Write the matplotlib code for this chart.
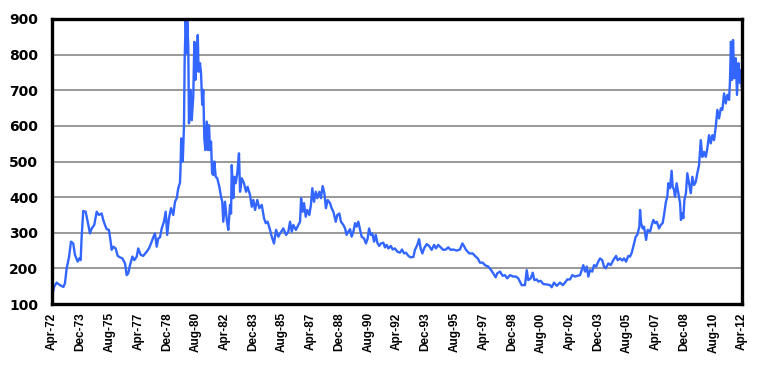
import matplotlib
matplotlib.use("Agg")
import matplotlib.pyplot as plt

# Data (decimal year, value)
years = [
    1972.27, 1972.37, 1972.52, 1972.71, 1972.91, 1973.00, 1973.10, 1973.24, 1973.35, 1973.48,
    1973.58, 1973.74, 1973.83, 1973.91, 1973.97, 1974.06, 1974.20, 1974.32, 1974.45, 1974.55,
    1974.70, 1974.84, 1974.97, 1975.13, 1975.22, 1975.32, 1975.42, 1975.55, 1975.65, 1975.71,
    1975.80, 1975.94, 1976.06, 1976.19, 1976.33, 1976.48, 1976.58, 1976.67, 1976.77, 1976.91,
    1977.02, 1977.16, 1977.25, 1977.39, 1977.54, 1977.74, 1977.87, 1977.99, 1978.12, 1978.22,
    1978.32, 1978.41, 1978.51, 1978.61, 1978.74, 1978.84, 1978.93, 1979.03, 1979.15, 1979.28,
    1979.38, 1979.48, 1979.57, 1979.67, 1979.70, 1979.74, 1979.83, 1979.90, 1979.94, 1980.00,
    1980.06, 1980.09, 1980.15, 1980.19, 1980.29, 1980.35, 1980.44, 1980.50, 1980.56, 1980.64,
    1980.70, 1980.75, 1980.83, 1980.89, 1980.96, 1981.02, 1981.08, 1981.14, 1981.22, 1981.29,
    1981.35, 1981.41, 1981.47, 1981.53, 1981.60, 1981.66, 1981.74, 1981.83, 1981.95, 1982.05,
    1982.12, 1982.18, 1982.28, 1982.38, 1982.47, 1982.57, 1982.63, 1982.67, 1982.76, 1982.82,
    1982.90, 1982.99, 1983.09, 1983.15, 1983.25, 1983.38, 1983.50, 1983.59, 1983.73, 1983.83,
    1983.92, 1984.02, 1984.15, 1984.27, 1984.41, 1984.54, 1984.64, 1984.75, 1984.89, 1984.99,
    1985.12, 1985.24, 1985.37, 1985.47, 1985.66, 1985.82, 1985.95, 1986.05, 1986.15, 1986.24,
    1986.39, 1986.53, 1986.63, 1986.69, 1986.78, 1986.86, 1986.96, 1987.05, 1987.17, 1987.26,
    1987.34, 1987.44, 1987.54, 1987.63, 1987.75, 1987.84, 1987.94, 1988.04, 1988.13, 1988.23,
    1988.37, 1988.46, 1988.56, 1988.70, 1988.79, 1988.91, 1989.00, 1989.14, 1989.24, 1989.33,
    1989.43, 1989.53, 1989.62, 1989.72, 1989.82, 1989.91, 1990.01, 1990.11, 1990.20, 1990.34,
    1990.45, 1990.55, 1990.63, 1990.73, 1990.82, 1990.92, 1991.02, 1991.11, 1991.22, 1991.32,
    1991.46, 1991.55, 1991.65, 1991.75, 1991.89, 1992.00, 1992.13, 1992.27, 1992.42, 1992.54,
    1992.66, 1992.77, 1992.91, 1993.04, 1993.20, 1993.29, 1993.43, 1993.53, 1993.62, 1993.72,
    1993.82, 1993.97, 1994.11, 1994.26, 1994.40, 1994.51, 1994.64, 1994.78, 1994.93, 1995.09,
    1995.22, 1995.36, 1995.51, 1995.71, 1995.90, 1996.04, 1996.13, 1996.25, 1996.44, 1996.64,
    1996.77, 1996.93, 1997.06, 1997.22, 1997.35, 1997.54, 1997.68, 1997.83, 1997.97, 1998.06,
    1998.22, 1998.38, 1998.51, 1998.64, 1998.80, 1998.99, 1999.15, 1999.28, 1999.48, 1999.67,
    1999.77, 1999.86, 2000.00, 2000.12, 2000.21, 2000.35, 2000.44, 2000.58, 2000.73, 2000.93,
    2001.12, 2001.22, 2001.35, 2001.51, 2001.70, 2001.86, 2001.99, 2002.12, 2002.28, 2002.41,
    2002.57, 2002.70, 2002.86, 2002.96, 2003.05, 2003.15, 2003.25, 2003.34, 2003.44, 2003.57,
    2003.67, 2003.79, 2003.92, 2004.02, 2004.15, 2004.25, 2004.35, 2004.50, 2004.64, 2004.79,
    2004.95, 2005.04, 2005.18, 2005.31, 2005.41, 2005.53, 2005.66, 2005.76, 2005.86, 2005.99,
    2006.09, 2006.18, 2006.30, 2006.34, 2006.40, 2006.49, 2006.57, 2006.69, 2006.78, 2006.92,
    2007.02, 2007.11, 2007.21, 2007.31, 2007.44, 2007.54, 2007.65, 2007.73, 2007.84, 2007.92,
    2007.98, 2008.08, 2008.17, 2008.23, 2008.31, 2008.37, 2008.46, 2008.56, 2008.66, 2008.71,
    2008.79, 2008.85, 2008.91, 2009.00, 2009.08, 2009.18, 2009.28, 2009.37, 2009.47, 2009.57,
    2009.66, 2009.76, 2009.86, 2009.95, 2010.05, 2010.15, 2010.24, 2010.34, 2010.44, 2010.53,
    2010.63, 2010.73, 2010.82, 2010.92, 2011.02, 2011.11, 2011.21, 2011.31, 2011.40, 2011.50,
    2011.55, 2011.61, 2011.67, 2011.73, 2011.80, 2011.89, 2011.96, 2012.04, 2012.12, 2012.18,
    2012.23,
]
values = [
    125, 148, 160, 153, 148, 158, 200, 233, 275, 270,
    238, 219, 228, 223, 289, 361, 359, 331, 298, 312,
    322, 359, 350, 354, 336, 322, 310, 308, 275, 252,
    261, 256, 235, 231, 228, 214, 181, 186, 209, 233,
    223, 233, 256, 238, 235, 247, 256, 270, 287, 298,
    261, 284, 287, 312, 331, 359, 294, 341, 369, 350,
    387, 397, 425, 441, 481, 565, 500, 598, 785, 897,
    804, 897, 822, 607, 701, 616, 682, 836, 729, 785,
    855, 752, 776, 747, 659, 701, 565, 532, 612, 532,
    602, 532, 556, 467, 462, 500, 457, 453, 429, 401,
    387, 331, 387, 336, 308, 378, 354, 490, 397, 457,
    439, 467, 523, 415, 453, 439, 415, 429, 406, 373,
    392, 364, 392, 369, 378, 341, 327, 331, 308, 289,
    270, 308, 289, 298, 312, 294, 303, 331, 303, 322,
    308, 322, 331, 397, 359, 383, 345, 364, 350, 378,
    425, 387, 415, 397, 415, 397, 431, 411, 369, 392,
    383, 369, 359, 331, 350, 354, 331, 322, 312, 294,
    303, 310, 289, 303, 327, 317, 331, 308, 289, 284,
    270, 284, 312, 294, 298, 275, 294, 272, 263, 270,
    272, 259, 266, 256, 263, 253, 256, 247, 244, 253,
    242, 244, 235, 231, 232, 252, 266, 282, 256, 242,
    256, 268, 263, 252, 266, 256, 266, 259, 252, 253,
    259, 252, 253, 250, 253, 270, 263, 252, 242, 242,
    235, 228, 216, 216, 209, 205, 197, 186, 175, 186,
    191, 179, 181, 172, 181, 177, 177, 172, 153, 153,
    195, 167, 172, 188, 167, 169, 163, 165, 156, 155,
    153, 147, 160, 151, 160, 153, 160, 169, 169, 181,
    177, 179, 181, 195, 209, 191, 205, 177, 195, 191,
    209, 205, 219, 228, 223, 205, 200, 214, 209, 223,
    235, 223, 228, 222, 228, 219, 235, 233, 244, 270,
    289, 294, 317, 364, 327, 312, 317, 280, 308, 303,
    322, 336, 327, 331, 312, 322, 327, 350, 387, 401,
    439, 425, 474, 429, 420, 401, 439, 411, 383, 336,
    354, 341, 392, 411, 467, 439, 411, 457, 434, 443,
    467, 490, 560, 513, 527, 513, 537, 574, 551, 574,
    560, 598, 645, 621, 649, 645, 691, 663, 687, 673,
    721, 836, 729, 841, 734, 790, 687, 776, 721, 757,
    710,
]

tick_labels = ["Apr-72", "Dec-73", "Aug-75", "Apr-77", "Dec-78", "Aug-80", "Apr-82",
               "Dec-83", "Aug-85", "Apr-87", "Dec-88", "Aug-90", "Apr-92", "Dec-93",
               "Aug-95", "Apr-97", "Dec-98", "Aug-00", "Apr-02", "Dec-03", "Aug-05",
               "Apr-07", "Dec-08", "Aug-10", "Apr-12"]
y_ticks = [100, 200, 300, 400, 500, 600, 700, 800, 900]

months = {"Jan": 0, "Feb": 1, "Mar": 2, "Apr": 3, "May": 4, "Jun": 5, "Jul": 6,
          "Aug": 7, "Sep": 8, "Oct": 9, "Nov": 10, "Dec": 11}


def label_to_year(lbl):
    m, y = lbl.split("-")
    yy = int(y)
    yy = 1900 + yy if yy > 50 else 2000 + yy
    return yy + months[m] / 12.0


tick_pos = [label_to_year(l) for l in tick_labels]

plt.rcParams["font.family"] = ["Liberation Sans", "DejaVu Sans"]

fig = plt.figure(figsize=(7.69, 3.70), dpi=100)
ax = fig.add_axes([52 / 769, 1 - 304 / 370, 690 / 769, 285 / 370])

for yv in y_ticks[1:-1]:
    ax.axhline(yv, color="#999999", linewidth=1.4, zorder=1)

ax.plot(years, values, color="#3366ff", linewidth=1.7, zorder=3)

ax.set_xlim(tick_pos[0], tick_pos[-1])
ax.set_ylim(100, 900)
ax.set_xticks(tick_pos)
ax.set_xticklabels(tick_labels, rotation=90, fontsize=8.5, fontweight="bold")
ax.set_yticks(y_ticks)
ax.set_yticklabels([str(v) for v in y_ticks], fontsize=10, fontweight="bold",
                   family=["DejaVu Sans"])
ax.tick_params(axis="both", length=0)
ax.tick_params(axis="y", pad=10)
ax.tick_params(axis="x", pad=6)

for s in ax.spines.values():
    s.set_linewidth(2.4)
    s.set_color("black")
    s.set_zorder(5)

fig.savefig("out.png", dpi=100)
